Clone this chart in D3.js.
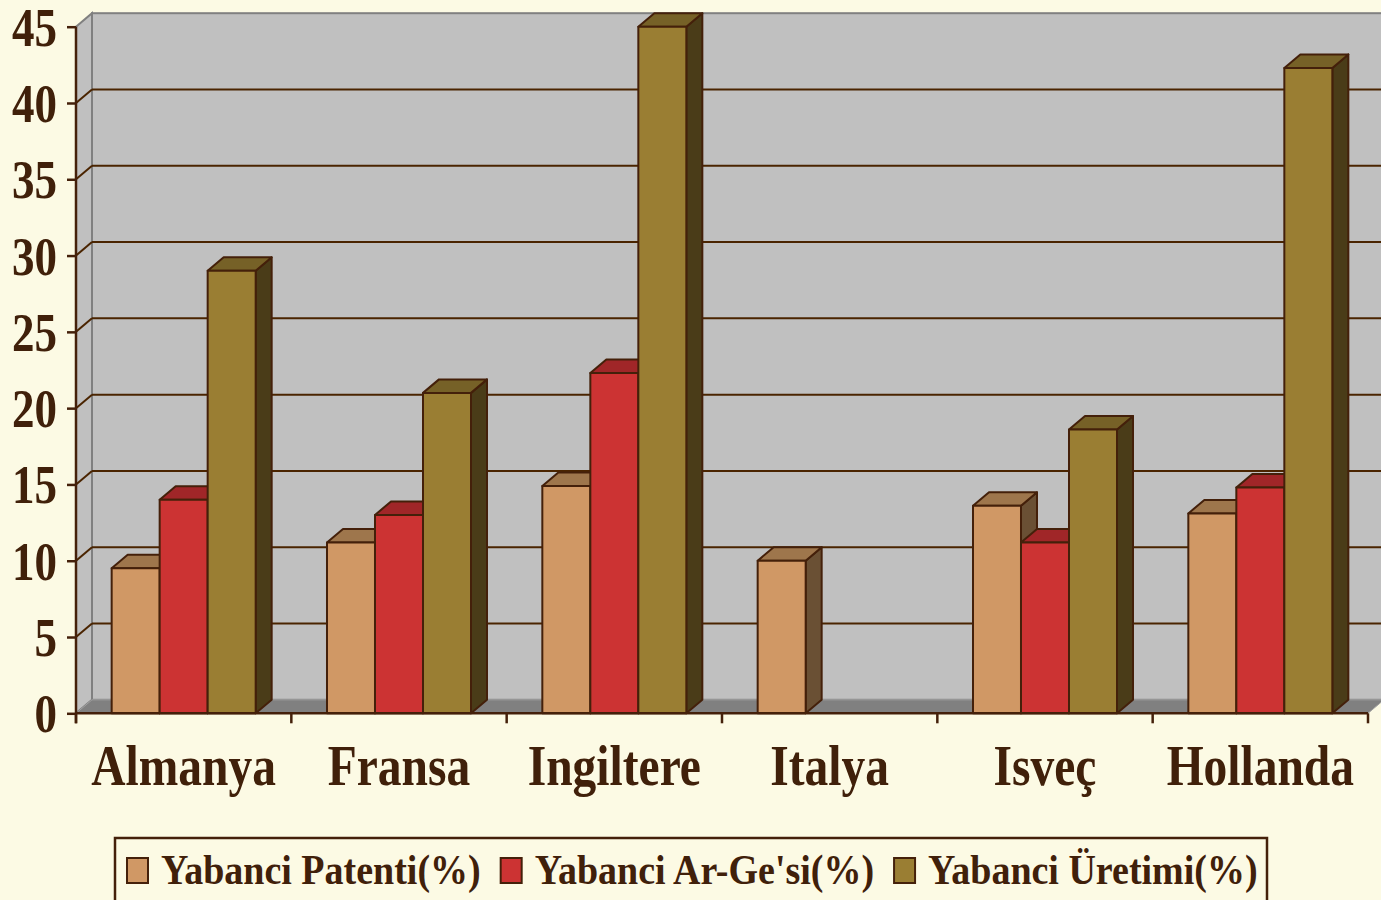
<!DOCTYPE html>
<html>
<head>
<meta charset="utf-8">
<script src="https://cdn.jsdelivr.net/npm/d3@7"></script>
<style>
  html, body { margin: 0; padding: 0; background: #FCFAE4; }
  svg { display: block; }
  text { font-family: "Liberation Serif", "Times New Roman", serif; font-weight: bold; fill: #40200A; }
</style>
</head>
<body>
<div id="chart"></div>
<script>
const categories = ['Almanya', 'Fransa', 'Ingiltere', 'Italya', 'Isveç', 'Hollanda'];
const seriesNames = ['Yabanci Patenti(%)', "Yabanci Ar-Ge'si(%)", 'Yabanci Üretimi(%)'];
const patenti = [9.5, 11.2, 14.9, 10.0, 13.6, 13.1];
const arge = [14.0, 13.0, 22.3, 0, 11.2, 14.8];
const uretim = [29.0, 21.0, 45.0, 0, 18.6, 42.3];
const yTicks = [0, 5, 10, 15, 20, 25, 30, 35, 40, 45];

const W = 1381, H = 900;
const plotLeft = 76, plotRight = 1368, plotBottom = 713.3, plotTop = 26.7;
const dx = 16, dy = -13.5;   // depth offset for the 3d look
const ink = '#44200A';

const faces = [
  { front: '#D09865', top: '#9E764C', side: '#6A5034' },
  { front: '#CC3333', top: '#A02628', side: '#6E1C1C' },
  { front: '#9A7E33', top: '#766127', side: '#4A3C18' }
];

const svg = d3.select('#chart').append('svg')
  .attr('width', W)
  .attr('height', H);

const x = d3.scaleBand().domain(categories).range([plotLeft, plotRight]);
const xs = d3.scaleBand().domain(d3.range(3)).range([0, x.bandwidth()]).paddingOuter(0.743);
const y = d3.scaleLinear().domain([0, 45]).range([plotBottom, plotTop]);

// walls
svg.append('rect')
  .attr('x', plotLeft + dx).attr('y', y(45) + dy)
  .attr('width', W - plotLeft - dx + 10).attr('height', y(0) - y(45))
  .attr('fill', '#C0C0C0').attr('stroke', '#808080').attr('stroke-width', 2);
svg.append('path')
  .attr('d', `M${plotLeft},${y(45)}L${plotLeft + dx},${y(45) + dy}L${plotLeft + dx},${y(0) + dy}L${plotLeft},${y(0)}Z`)
  .attr('fill', '#C0C0C0').attr('stroke', '#808080').attr('stroke-width', 2);
svg.append('path')
  .attr('d', `M${plotLeft},${y(0)}L${plotRight},${y(0)}L${plotRight + dx},${y(0) + dy}L${W + 10},${y(0) + dy}L${plotLeft + dx},${y(0) + dy}Z`)
  .attr('fill', '#808080').attr('stroke', '#A0A0A0').attr('stroke-width', 1);

// gridlines on back wall and side wall
const grid = svg.append('g').attr('stroke', '#4A2400').attr('stroke-width', 2);
yTicks.filter(v => v > 0 && v < 45).forEach(v => {
  grid.append('line')
    .attr('x1', plotLeft + dx).attr('x2', W)
    .attr('y1', y(v) + dy).attr('y2', y(v) + dy);
  grid.append('line')
    .attr('x1', plotLeft).attr('x2', plotLeft + dx)
    .attr('y1', y(v)).attr('y2', y(v) + dy);
});

// bars
const series = [patenti, arge, uretim];
const bars = svg.append('g')
  .attr('stroke', ink).attr('stroke-width', 2).attr('stroke-linejoin', 'round');
categories.forEach((c, i) => {
  series.forEach((vals, s) => {
    const v = vals[i];
    if (!v) return;
    const x0 = x(c) + xs(s), x1 = x0 + xs.bandwidth();
    const y0 = y(0), y1 = y(v);
    bars.append('path')
      .attr('d', `M${x1},${y1}L${x1 + dx},${y1 + dy}L${x1 + dx},${y0 + dy}L${x1},${y0}Z`)
      .attr('fill', faces[s].side);
    bars.append('path')
      .attr('d', `M${x0},${y1}L${x0 + dx},${y1 + dy}L${x1 + dx},${y1 + dy}L${x1},${y1}Z`)
      .attr('fill', faces[s].top);
    bars.append('rect')
      .attr('x', x0).attr('y', y1)
      .attr('width', x1 - x0).attr('height', y0 - y1)
      .attr('fill', faces[s].front);
  });
});

// axes
const yAxis = svg.append('g')
  .attr('transform', `translate(${plotLeft},0)`)
  .call(d3.axisLeft(y).tickValues(yTicks).tickSize(9).tickFormat(''));
yAxis.select('.domain').attr('stroke', ink).attr('stroke-width', 2.5).attr('d', `M0,${y(0) + 10}V${y(45)}`);
yAxis.selectAll('.tick line').attr('stroke', ink).attr('stroke-width', 2.5);

yTicks.forEach(v => {
  svg.append('text')
    .attr('transform', `translate(57,${y(v) + 19}) scale(1,1.2)`)
    .attr('text-anchor', 'end')
    .attr('font-size', 45)
    .text(v);
});

const xAxis = svg.append('g')
  .attr('transform', `translate(0,${y(0)})`)
  .call(d3.axisBottom(x).tickSize(0).tickFormat(''));
xAxis.select('.domain').attr('stroke', ink).attr('stroke-width', 2.5).attr('d', `M${plotLeft},0H${plotRight}`);
xAxis.selectAll('.tick').remove();
categories.concat(['end']).forEach((c, i) => {
  const px = i < categories.length ? x(c) : plotRight;
  xAxis.append('line')
    .attr('x1', px).attr('x2', px).attr('y1', 0).attr('y2', 10)
    .attr('stroke', ink).attr('stroke-width', 2.5);
});

categories.forEach(c => {
  svg.append('text')
    .attr('transform', `translate(${x(c) + x.bandwidth() / 2},785) scale(1,1.18)`)
    .attr('text-anchor', 'middle')
    .attr('font-size', 47.5)
    .text(c);
});

// legend
const legend = svg.append('g');
legend.append('rect')
  .attr('x', 115).attr('y', 838).attr('width', 1152).attr('height', 80)
  .attr('fill', 'none').attr('stroke', ink).attr('stroke-width', 2.5);
let lx = 127;
seriesNames.forEach((name, s) => {
  legend.append('rect')
    .attr('x', lx).attr('y', 858).attr('width', 21).attr('height', 25)
    .attr('fill', faces[s].front).attr('stroke', ink).attr('stroke-width', 2);
  const t = legend.append('text')
    .attr('transform', `translate(${lx + 34},884) scale(1,1.12)`)
    .attr('font-size', 38)
    .text(name);
  lx += 34 + t.node().getComputedTextLength() + 20;
});
</script>
</body>
</html>
